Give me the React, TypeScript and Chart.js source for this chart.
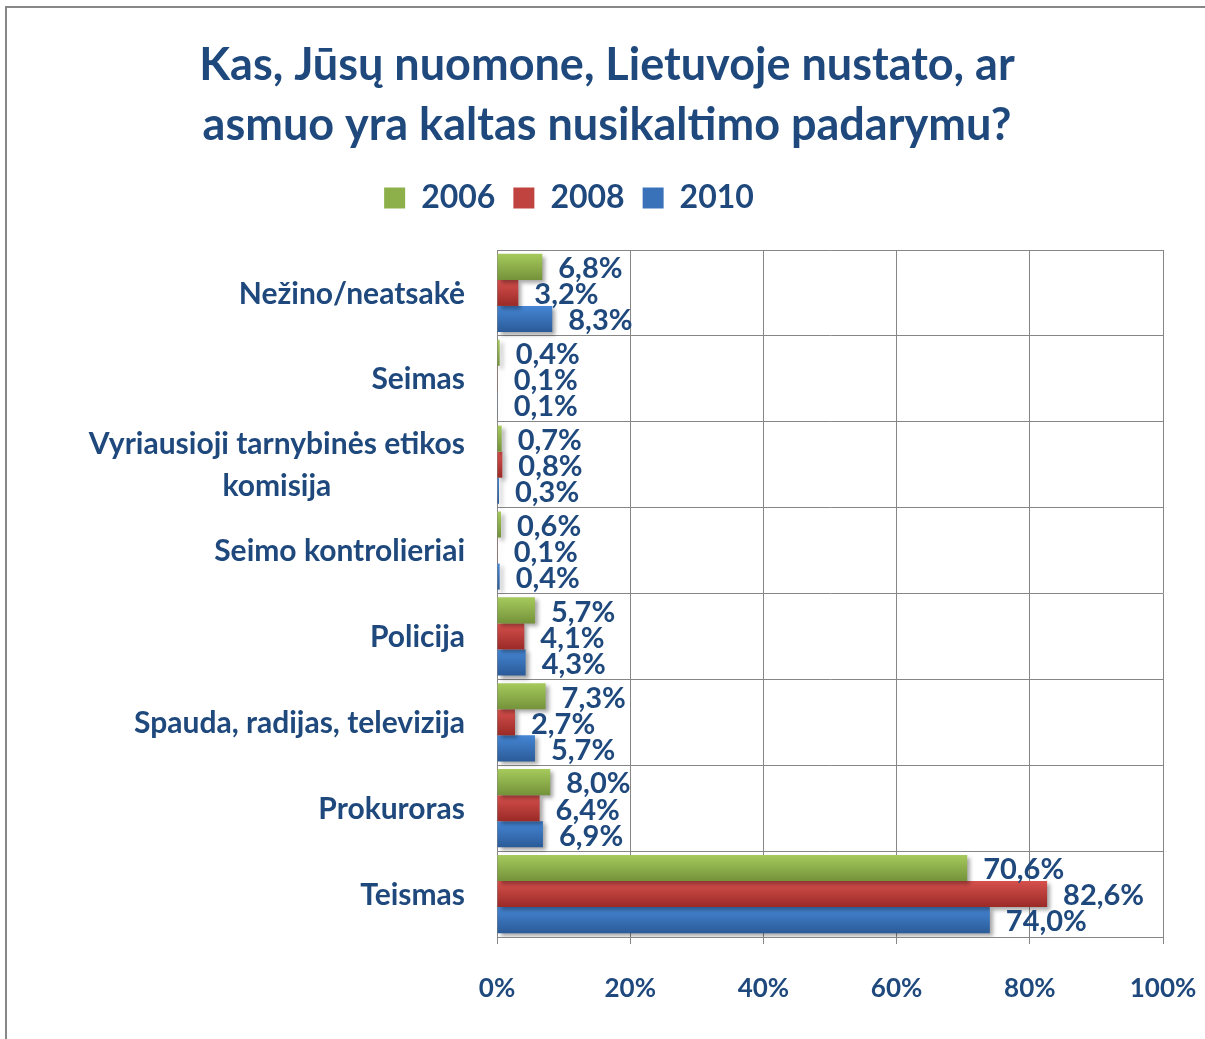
import React, { useEffect, useRef } from "react";
import { Chart, registerables } from "chart.js";

Chart.register(...registerables);

// ---- data ----
const titleLines = ["Kas, Jūsų nuomone, Lietuvoje nustato, ar", "asmuo yra kaltas nusikaltimo padarymu?"];
const categories: (string | string[])[] = [
  "Nežino/neatsakė",
  "Seimas",
  ["Vyriausioji tarnybinės etikos", "komisija"],
  "Seimo kontrolieriai",
  "Policija",
  "Spauda, radijas, televizija",
  "Prokuroras",
  "Teismas",
];
const seriesNames = ["2006", "2008", "2010"];
const values2006 = [6.8, 0.4, 0.7, 0.6, 5.7, 7.3, 8.0, 70.6];
const values2008 = [3.2, 0.1, 0.8, 0.1, 4.1, 2.7, 6.4, 82.6];
const values2010 = [8.3, 0.1, 0.3, 0.4, 4.3, 5.7, 6.9, 74.0];
const xTickValues = [0, 20, 40, 60, 80, 100];

// ---- styles ----
const TEXT = "#1F497D";
const GRID = "#868686";
const FONT = "Lato";
const palette = [
  { top: "#A6CA5C", bottom: "#74923A", solid: "#8DB04A" },
  { top: "#D6504C", bottom: "#9A2A27", solid: "#C0433F" },
  { top: "#4586D5", bottom: "#2B5B98", solid: "#3A72BA" },
];

const fmt = (v: number) => v.toFixed(1).replace(".", ",") + "%";

const decorPlugin = {
  id: "decor",
  afterLayout(chart: any) {
    // legend in the original sits a bit left of the title centre
    const lg = chart.legend;
    if (lg) {
      lg.left -= 38;
      lg.right -= 38;
    }
  },
  beforeDatasetsDraw(chart: any) {
    const ctx = chart.ctx;
    chart.data.datasets.forEach((_ds: any, di: number) => {
      const meta = chart.getDatasetMeta(di);
      const pal = palette[di];
      meta.data.forEach((el: any) => {
        const h = el.height;
        const top = el.y - h / 2;
        const g = ctx.createLinearGradient(0, top, 0, top + h);
        g.addColorStop(0, pal.top);
        g.addColorStop(1, pal.bottom);
        el.options.backgroundColor = g;
      });
    });
    ctx.save();
    ctx.shadowColor = "rgba(0,0,0,0.35)";
    ctx.shadowOffsetX = 3;
    ctx.shadowOffsetY = 3;
    ctx.shadowBlur = 4;
  },
  afterDatasetsDraw(chart: any) {
    const ctx = chart.ctx;
    ctx.restore();
    // value labels
    ctx.save();
    ctx.font = `bold 29px ${FONT}`;
    ctx.fillStyle = TEXT;
    ctx.textAlign = "left";
    ctx.textBaseline = "middle";
    chart.data.datasets.forEach((ds: any, di: number) => {
      const meta = chart.getDatasetMeta(di);
      meta.data.forEach((el: any, i: number) => {
        ctx.fillText(fmt(ds.data[i]), el.x + 16, el.y + 2);
      });
    });
    // category labels: right aligned block, lines centred within block
    const yScale = chart.scales.y;
    ctx.font = `bold 30px ${FONT}`;
    const right = chart.chartArea.left - 32;
    const lh = 42;
    categories.forEach((c, i) => {
      const lines = Array.isArray(c) ? c : [c];
      const w = Math.max(...lines.map((l) => ctx.measureText(l).width));
      const cy = yScale.getPixelForTick(i);
      ctx.textAlign = "center";
      lines.forEach((l, k) => {
        const y = cy + (k - (lines.length - 1) / 2) * lh;
        ctx.fillText(l, right - w / 2, y + 1);
      });
    });
    ctx.restore();
  },
};

export default function App() {
  const ref = useRef<HTMLCanvasElement>(null);
  useEffect(() => {
    if (!ref.current) return;
    Chart.defaults.font.family = FONT;
    const chart = new Chart(ref.current, {
      type: "bar",
      data: {
        labels: categories,
        datasets: [values2006, values2008, values2010].map((vals, di) => ({
          label: seriesNames[di],
          data: vals,
          backgroundColor: () => palette[di].solid,
          borderWidth: 0,
          categoryPercentage: 0.91,
          barPercentage: 1,
        })),
      },
      options: {
        indexAxis: "y",
        animation: false,
        responsive: false,
        events: [],
        layout: { padding: { left: 51, right: 42, top: 0, bottom: 32 } },
        plugins: {
          title: {
            display: true,
            text: titleLines,
            color: TEXT,
            font: { family: FONT, size: 45, weight: "bold", lineHeight: 60 / 45 },
            padding: { top: 35, bottom: 9 },
          },
          subtitle: {
            display: true,
            text: "",
            weight: 500,
            font: { size: 1, lineHeight: 1 },
            padding: { top: 25, bottom: 0 },
          },
          legend: {
            display: true,
            position: "top",
            labels: {
              color: TEXT,
              font: { family: FONT, size: 32, weight: "bold" },
              boxWidth: 21,
              boxHeight: 21,
              padding: 18,
              generateLabels: (chart: any) =>
                chart.data.datasets.map((ds: any, i: number) => ({
                  text: ds.label,
                  fillStyle: palette[i].solid,
                  strokeStyle: palette[i].solid,
                  lineWidth: 0,
                  hidden: false,
                  datasetIndex: i,
                  fontColor: TEXT,
                })),
            },
          },
          tooltip: { enabled: false },
        },
        scales: {
          x: {
            min: 0,
            max: 100,
            afterBuildTicks: (scale: any) => {
              scale.ticks = xTickValues.map((v) => ({ value: v }));
            },
            afterFit: (scale: any) => {
              scale.height = 70;
              scale.paddingLeft = 0;
              scale.paddingRight = 0;
            },
            ticks: {
              color: TEXT,
              font: { family: FONT, size: 26, weight: "bold" },
              padding: 29,
              callback: (v: any) => v + "%",
            },
            grid: { color: GRID, lineWidth: 1, drawTicks: true, tickLength: 7, tickColor: GRID },
            border: { color: GRID, width: 1 },
          },
          y: {
            afterFit: (scale: any) => {
              scale.width = 446;
            },
            ticks: { color: "rgba(0,0,0,0)", font: { family: FONT, size: 26, weight: "bold" } },
            grid: { color: GRID, lineWidth: 1, offset: true, drawTicks: false },
            border: { color: GRID, width: 1 },
          },
        },
      },
      plugins: [decorPlugin],
    } as any);
    return () => chart.destroy();
  }, []);

  return (
    <div style={{ position: "fixed", left: 0, top: 0, width: 1205, height: 1039, background: "#fff" }}>
      <canvas ref={ref} width={1205} height={1039} style={{ display: "block" }} />
      <div
        style={{
          position: "absolute",
          left: 5,
          top: 6,
          right: 0,
          bottom: 0,
          borderTop: "2px solid #878787",
          borderLeft: "2px solid #878787",
          pointerEvents: "none",
        }}
      />
    </div>
  );
}
